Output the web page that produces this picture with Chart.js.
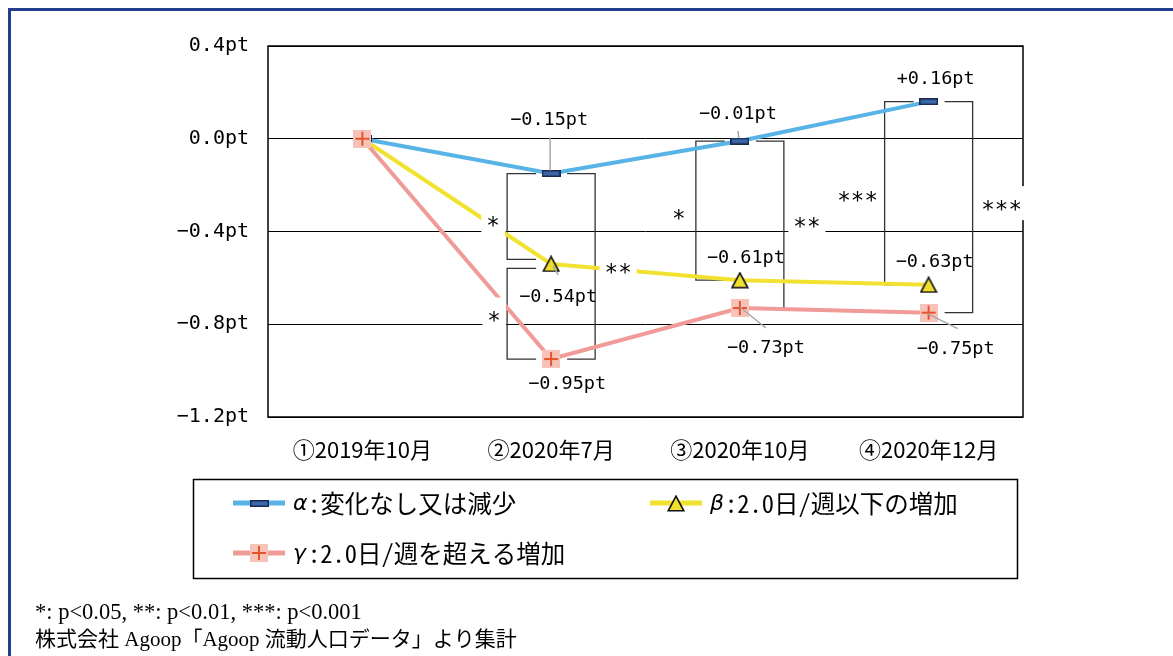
<!DOCTYPE html>
<html>
<head>
<meta charset="utf-8">
<script src="https://cdn.jsdelivr.net/npm/chart.js@4.4.0/dist/chart.umd.min.js"></script>
<style>
  html, body { margin: 0; padding: 0; background: #fff; }
  #wrap { position: relative; width: 1173px; height: 656px; overflow: hidden; }
  #c { position: absolute; left: 0; top: 0; }
</style>
</head>
<body>
<div id="wrap"><canvas id="c" width="1173" height="656"></canvas></div>
<script>
// ---- data ----
const categories  = ['①2019年10月', '②2020年7月', '③2020年10月', '④2020年12月'];
const alphaValues = [0.00, -0.15, -0.01, 0.16];
const betaValues  = [0.00, -0.54, -0.61, -0.63];
const gammaValues = [0.00, -0.95, -0.73, -0.75];
const seriesNames = ['α:変化なし又は減少', 'β:2.0日/週以下の増加', 'γ:2.0日/週を超える増加'];
const yTickValues = [0.4, 0.0, -0.4, -0.8, -1.2];

// significance tests between two series at one period
const sigCategory = [1, 1, 1, 2, 2, 3, 3];
const sigSeriesA  = [0, 1, 0, 0, 0, 0, 0];
const sigSeriesB  = [1, 2, 2, 1, 2, 1, 2];
const sigMarks    = ['*', '*', '**', '*', '**', '***', '***'];

const footNotes = ['*: p<0.05, **: p<0.01, ***: p<0.001', '株式会社 Agoop「Agoop 流動人口データ」より集計'];

// ---- styles ----
const COLORS = { alpha: '#58b3e6', beta: '#f1e231', gamma: '#f19b98' };
const MONO = '"DejaVu Sans Mono", "Noto Sans CJK JP", monospace';
const CJK_MONO = '"Noto Sans Mono CJK JP", "Noto Sans CJK JP", sans-serif';

// bracket side (-1 left / +1 right), mark offset and end insets
const sigStyle = [
  { side: -1, dx: -58, dy: 1,  insetTop: 0,   insetBottom: 4.5 },
  { side: -1, dx: -57, dy: 4,  insetTop: 4.5, insetBottom: 0 },
  { side:  1, dx: 67,  dy: 1,  insetTop: 0,   insetBottom: 0 },
  { side: -1, dx: -61, dy: 2,  insetTop: 0,   insetBottom: 0 },
  { side:  1, dx: 67,  dy: -4, insetTop: 0,   insetBottom: 0 },
  { side: -1, dx: -71, dy: 2,  insetTop: 0,   insetBottom: 0 },
  { side:  1, dx: 73,  dy: -3, insetTop: 0,   insetBottom: 0 }
];

// value label placement per series / period: [dx, dy, leader] (leader = [x1,y1,x2,y2] relative to the point)
const labelPlacement = [
  [null, [-2, -53, [-1, -36, -1, -3]], [-2, -27, [-2, -10, -1, -3]], [7, -22, null]],
  [null, [7, 33, [2, 2, 7, 11]],       [6, -22, null],               [6, -23, null]],
  [null, [16, 25, null],               [26, 40, [0, -1, 26, 20]],    [27, 37, [-1, 1, 29, 16]]]
];

function fmtTick(v) {
  const r = Math.round(v * 10) / 10;
  return (r < 0 ? '−' : '') + Math.abs(r).toFixed(1) + 'pt';
}
function fmtValue(v) {
  return (v > 0 ? '+' : v < 0 ? '−' : '') + Math.abs(v).toFixed(2) + 'pt';
}

// ---- marker images ----
function makeCanvas(w, h, draw) {
  const c = document.createElement('canvas');
  c.width = w; c.height = h;
  draw(c.getContext('2d'));
  return c;
}
const alphaMarker = makeCanvas(19, 7, g => {
  g.fillStyle = '#3b67ad';
  g.fillRect(1, 1, 17, 5);
  g.strokeStyle = '#1b2a4a';
  g.lineWidth = 1.5;
  g.strokeRect(0.75, 0.75, 17.5, 5.5);
});
const betaMarker = makeCanvas(18, 17, g => {
  g.beginPath();
  g.moveTo(9, 1.2); g.lineTo(16.8, 15.8); g.lineTo(1.2, 15.8); g.closePath();
  g.fillStyle = '#efe02c';
  g.fill();
  g.strokeStyle = '#111';
  g.lineWidth = 1.6;
  g.stroke();
});
const gammaMarker = makeCanvas(18, 18, g => {
  g.fillStyle = '#f7c2b8';
  g.fillRect(0, 0, 18, 18);
  g.strokeStyle = '#e9532c';
  g.lineWidth = 2;
  g.beginPath();
  g.moveTo(9, 2); g.lineTo(9, 16);
  g.moveTo(2, 9); g.lineTo(16, 9);
  g.stroke();
});
const markers = [alphaMarker, betaMarker, gammaMarker];

// ---- plugins ----
const backdrop = {
  id: 'backdrop',
  beforeDraw(chart) {
    const ctx = chart.ctx;
    ctx.save();
    ctx.fillStyle = '#fff';
    ctx.fillRect(0, 0, chart.width, chart.height);
    ctx.strokeStyle = '#213f8c';
    ctx.lineWidth = 3;
    ctx.beginPath();
    ctx.moveTo(9.5, chart.height + 5);
    ctx.lineTo(9.5, 9.5);
    ctx.lineTo(chart.width + 5, 9.5);
    ctx.stroke();
    // footnotes
    ctx.fillStyle = '#000';
    ctx.textBaseline = 'alphabetic';
    ctx.textAlign = 'left';
    ctx.font = '22.5px "Liberation Serif", "Noto Sans CJK JP", serif';
    ctx.fillText(footNotes[0], 35, 619);
    ctx.font = '21px "Liberation Serif", "Noto Sans CJK JP", serif';
    ctx.fillText(footNotes[1], 35, 646);
    ctx.restore();
  }
};

const brackets = {
  id: 'brackets',
  beforeDatasetsDraw(chart) {
    const ctx = chart.ctx, a = chart.chartArea;
    const xs = chart.scales.x, ys = chart.scales.y;
    ctx.save();
    // plot frame
    ctx.strokeStyle = '#000';
    ctx.lineWidth = 1.5;
    ctx.strokeRect(a.left, a.top, a.right - a.left, a.bottom - a.top);
    // significance brackets
    ctx.strokeStyle = '#333';
    ctx.lineWidth = 1.3;
    sigCategory.forEach((cat, k) => {
      const st = sigStyle[k];
      const c = xs.getPixelForValue(cat);
      const ya = ys.getPixelForValue(chart.data.datasets[sigSeriesA[k]].data[cat]);
      const yb = ys.getPixelForValue(chart.data.datasets[sigSeriesB[k]].data[cat]);
      const top = Math.min(ya, yb) + st.insetTop;
      const bot = Math.max(ya, yb) - st.insetBottom;
      const vx = c + st.side * 44;
      const armEnd = st.side < 0 ? c - 15 : c + 16;
      ctx.beginPath();
      ctx.moveTo(armEnd, top);
      ctx.lineTo(vx, top);
      ctx.lineTo(vx, bot);
      ctx.lineTo(armEnd, bot);
      ctx.stroke();
    });
    ctx.restore();
  },
  afterDatasetsDraw(chart) {
    const ctx = chart.ctx;
    const xs = chart.scales.x, ys = chart.scales.y;
    ctx.save();
    // significance marks on white boxes
    ctx.font = '22.5px ' + MONO;
    sigCategory.forEach((cat, k) => {
      const st = sigStyle[k];
      const c = xs.getPixelForValue(cat);
      const ya = ys.getPixelForValue(chart.data.datasets[sigSeriesA[k]].data[cat]);
      const yb = ys.getPixelForValue(chart.data.datasets[sigSeriesB[k]].data[cat]);
      const x = c + st.dx, y = (ya + yb) / 2 + st.dy;
      const w = ctx.measureText(sigMarks[k]).width + 10;
      ctx.fillStyle = '#fff';
      ctx.fillRect(x - w / 2, y - 18, w, 34);
      ctx.fillStyle = '#000';
      ctx.textAlign = 'center';
      ctx.textBaseline = 'alphabetic';
      ctx.fillText(sigMarks[k], x, y + 13);
    });
    // value labels with leader lines
    ctx.font = '18.5px ' + MONO;
    ctx.textAlign = 'center';
    ctx.textBaseline = 'middle';
    chart.data.datasets.forEach((ds, i) => {
      const meta = chart.getDatasetMeta(i);
      ds.data.forEach((v, j) => {
        const p = labelPlacement[i][j];
        if (!p) return;
        const pt = meta.data[j];
        if (p[2]) {
          const l = p[2];
          ctx.strokeStyle = '#a6a6a6';
          ctx.lineWidth = 1.5;
          ctx.beginPath();
          ctx.moveTo(pt.x + l[0], pt.y + l[1]);
          ctx.lineTo(pt.x + l[2], pt.y + l[3]);
          ctx.stroke();
        }
        ctx.fillStyle = '#000';
        ctx.fillText(fmtValue(v), pt.x + p[0], pt.y + p[1]);
      });
    });
    ctx.restore();
  }
};

// legend box drawn from the datasets
const legendBox = {
  id: 'legendBox',
  afterDraw(chart) {
    const ctx = chart.ctx;
    const slots = [[233, 503], [650, 503], [233, 553]];
    ctx.save();
    ctx.strokeStyle = '#000';
    ctx.lineWidth = 1.5;
    ctx.strokeRect(193.5, 479.5, 824, 99);
    chart.data.datasets.forEach((ds, i) => {
      const [x0, y] = slots[i];
      ctx.strokeStyle = ds.borderColor;
      ctx.lineWidth = 5;
      ctx.beginPath();
      ctx.moveTo(x0, y);
      ctx.lineTo(x0 + 52, y);
      ctx.stroke();
      const img = ds.pointStyle;
      ctx.drawImage(img, Math.round(x0 + 26 - img.width / 2), Math.round(y - img.height / 2));
      ctx.fillStyle = '#000';
      ctx.textAlign = 'left';
      ctx.textBaseline = 'middle';
      ctx.font = 'italic 22px "DejaVu Sans", sans-serif';
      ctx.fillText(ds.label.charAt(0), x0 + 60, y + 1);
      ctx.font = '24.5px ' + CJK_MONO;
      ctx.fillText(ds.label.slice(1), x0 + 75, y + 1);
    });
    ctx.restore();
  }
};

// ---- chart ----
new Chart(document.getElementById('c'), {
  type: 'line',
  data: {
    labels: categories,
    datasets: [
      { label: seriesNames[0], data: alphaValues, borderColor: COLORS.alpha, backgroundColor: COLORS.alpha,
        borderWidth: 4, pointStyle: markers[0], pointRadius: 9, pointHoverRadius: 9, order: 3, tension: 0 },
      { label: seriesNames[1], data: betaValues, borderColor: COLORS.beta, backgroundColor: COLORS.beta,
        borderWidth: 4, pointStyle: markers[1], pointRadius: 9, pointHoverRadius: 9, order: 2, tension: 0 },
      { label: seriesNames[2], data: gammaValues, borderColor: COLORS.gamma, backgroundColor: COLORS.gamma,
        borderWidth: 4, pointStyle: markers[2], pointRadius: 9, pointHoverRadius: 9, order: 1, tension: 0 }
    ]
  },
  options: {
    responsive: false,
    animation: false,
    devicePixelRatio: 1,
    events: [],
    layout: { padding: { left: 0, top: 46, right: 150, bottom: 0 } },
    plugins: { legend: { display: false }, tooltip: { enabled: false } },
    scales: {
      x: {
        type: 'category',
        offset: true,
        grid: { display: false, drawTicks: false },
        border: { display: false },
        ticks: { color: '#000', padding: 19, maxRotation: 0, autoSkip: false,
                 font: { family: '"Noto Sans CJK JP", sans-serif', size: 22 } },
        afterFit(s) { s.height = 239; }
      },
      y: {
        min: -1.2,
        max: 0.4,
        grid: { color: '#000', lineWidth: 1, drawTicks: false },
        border: { display: false },
        afterBuildTicks(s) { s.ticks = yTickValues.map(v => ({ value: v })); },
        ticks: { color: '#000', padding: 19, callback: fmtTick,
                 font: { family: MONO, size: 20 } },
        afterFit(s) { s.width = 268; }
      }
    }
  },
  plugins: [backdrop, brackets, legendBox]
});
</script>
</body>
</html>
